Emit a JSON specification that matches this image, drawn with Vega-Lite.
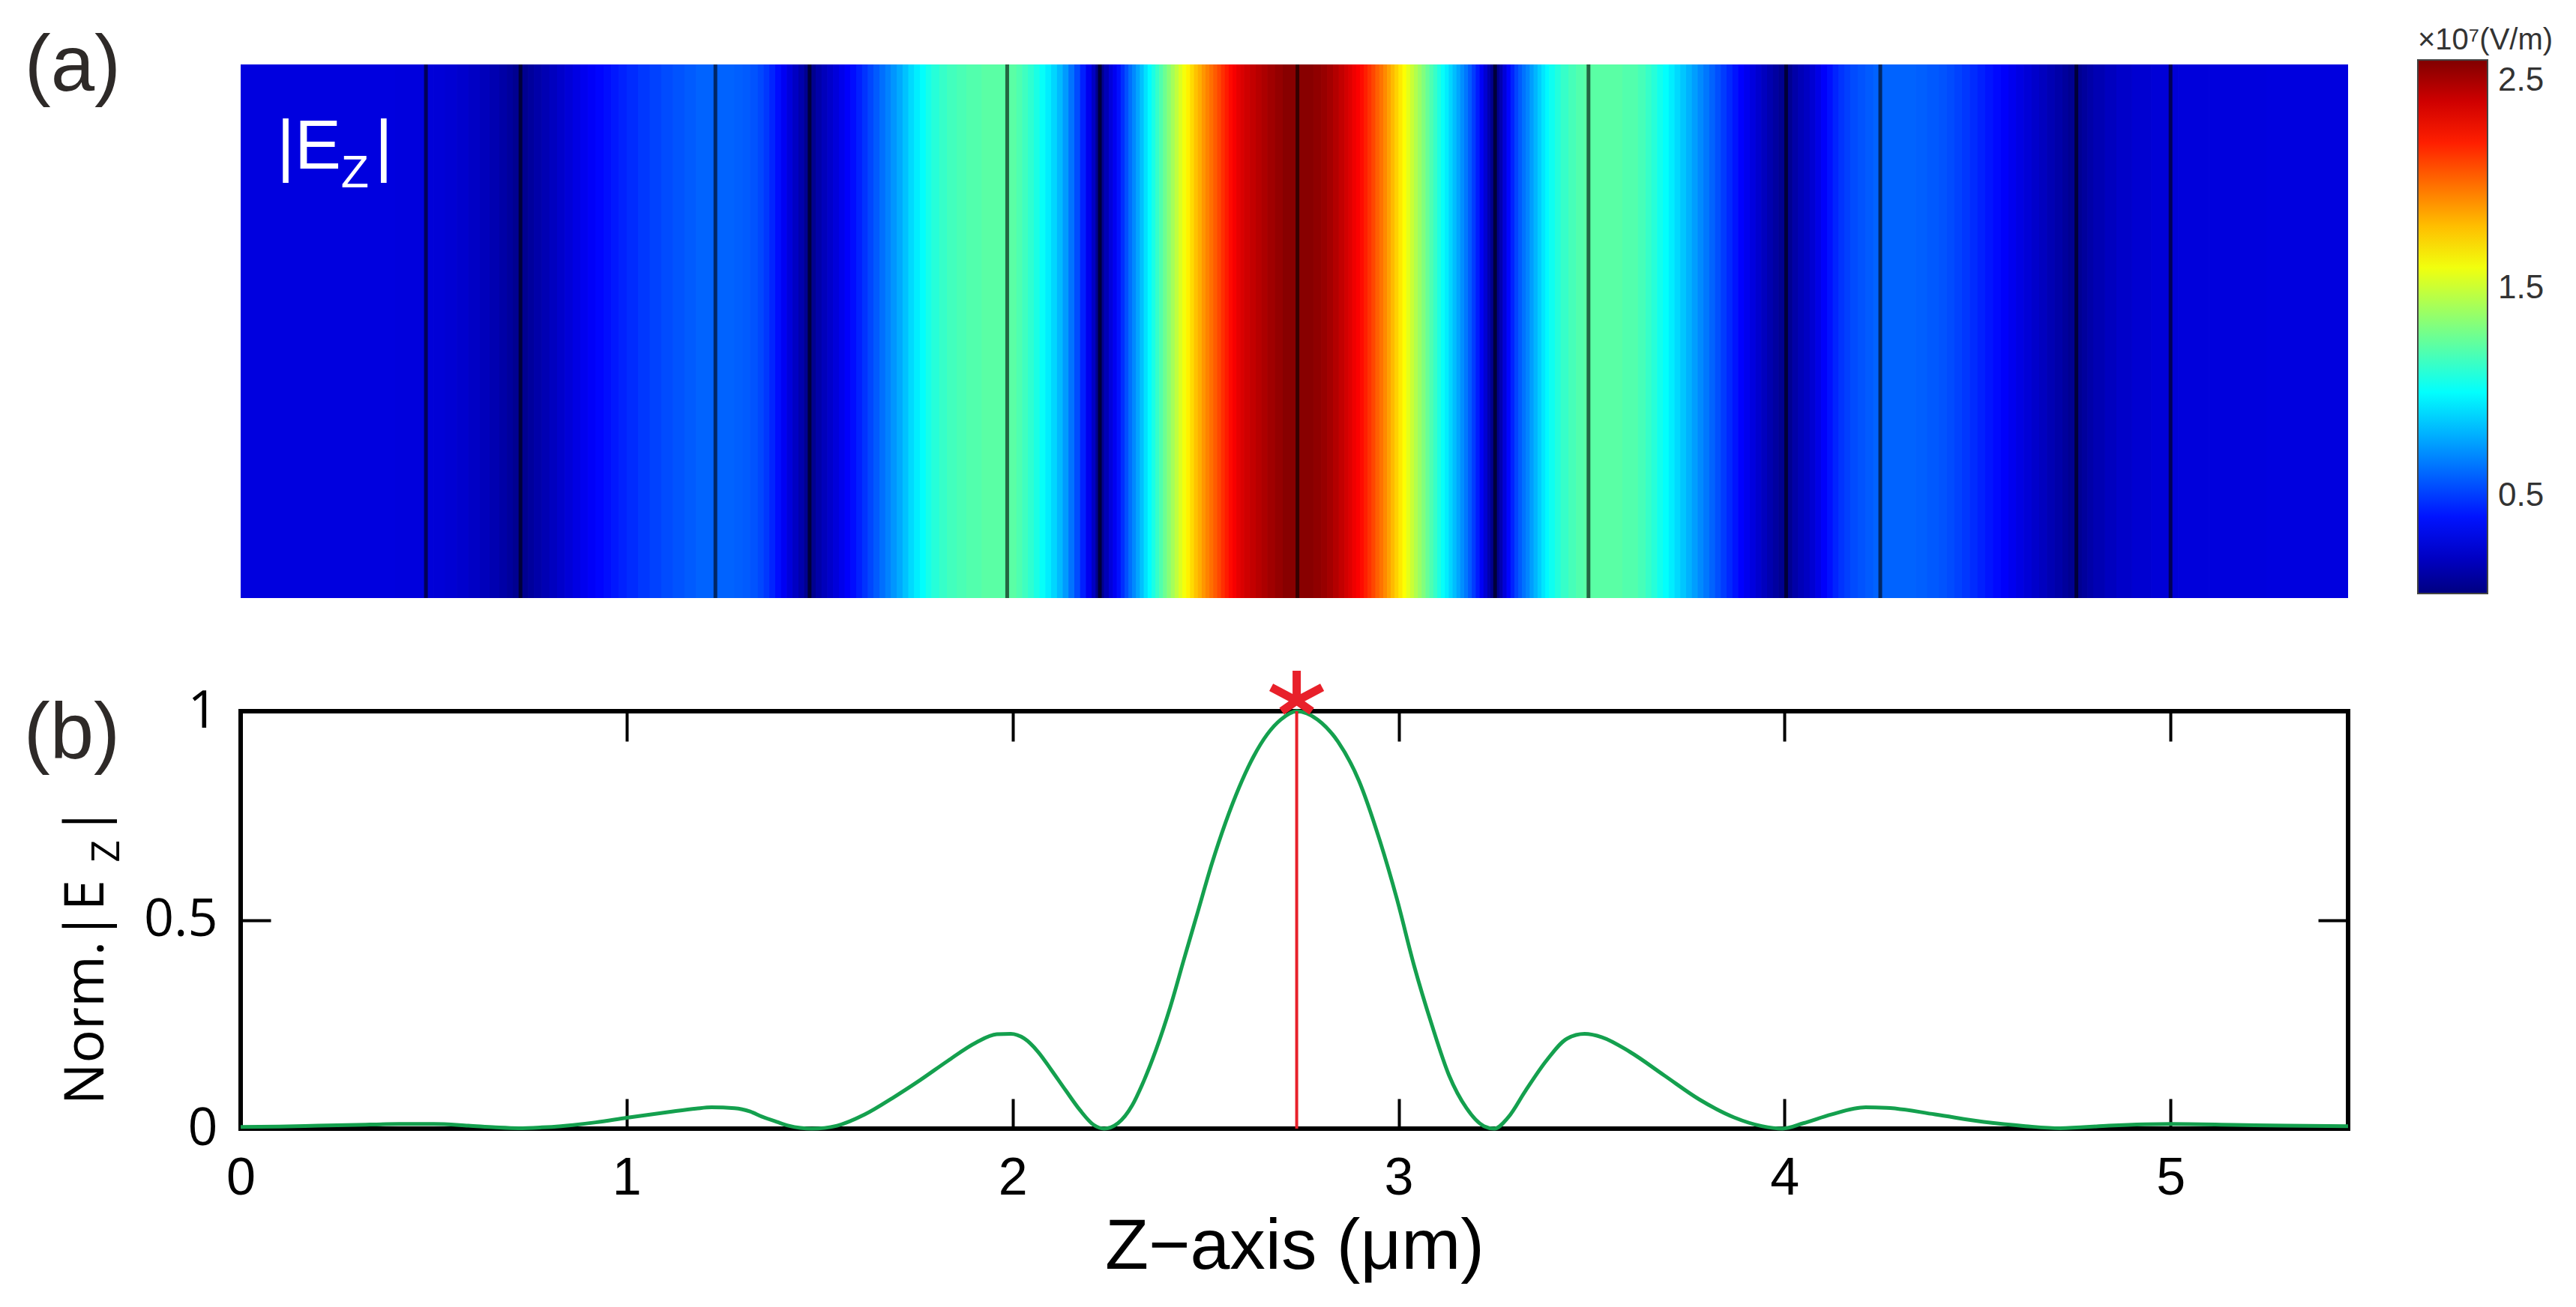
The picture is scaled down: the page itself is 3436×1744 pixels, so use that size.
{
  "$schema": "https://vega.github.io/schema/vega-lite/v6.json",
  "background": "white",
  "padding": {"left": 28, "top": 34, "right": 5, "bottom": 5},
  "spacing": 151,
  "bounds": "flush",
  "config": {
    "font": "Liberation Sans",
    "axis": {"grid": false, "domain": false, "tickColor": "black", "tickWidth": 4, "labelColor": "black", "titleColor": "black", "labelFlush": false},
    "text": {"font": "Liberation Sans"}
  },
  "datasets": {
    "field": [
      {"z0":0,"z1":0.4,"v":0.27},{"z0":0.4,"z1":0.48,"v":0.265},{"z0":0.48,"z1":0.5,"v":0.255},{"z0":0.5,"z1":0.53,"v":0.25},
      {"z0":0.53,"z1":0.56,"v":0.24},{"z0":0.56,"z1":0.59,"v":0.225},{"z0":0.59,"z1":0.62,"v":0.205},{"z0":0.62,"z1":0.645,"v":0.18},
      {"z0":0.645,"z1":0.67,"v":0.155},{"z0":0.67,"z1":0.69,"v":0.125},{"z0":0.69,"z1":0.705,"v":0.1},{"z0":0.705,"z1":0.745,"v":0.07},
      {"z0":0.745,"z1":0.76,"v":0.1},{"z0":0.76,"z1":0.78,"v":0.13},{"z0":0.78,"z1":0.8,"v":0.16},{"z0":0.8,"z1":0.82,"v":0.19},
      {"z0":0.82,"z1":0.84,"v":0.22},{"z0":0.84,"z1":0.86,"v":0.25},{"z0":0.86,"z1":0.88,"v":0.28},{"z0":0.88,"z1":0.9,"v":0.31},
      {"z0":0.9,"z1":0.92,"v":0.335},{"z0":0.92,"z1":0.94,"v":0.36},{"z0":0.94,"z1":0.96,"v":0.385},{"z0":0.96,"z1":0.98,"v":0.41},
      {"z0":0.98,"z1":1.0,"v":0.435},{"z0":1.0,"z1":1.03,"v":0.46},{"z0":1.03,"z1":1.06,"v":0.49},{"z0":1.06,"z1":1.09,"v":0.515},
      {"z0":1.09,"z1":1.12,"v":0.54},{"z0":1.12,"z1":1.15,"v":0.56},{"z0":1.15,"z1":1.18,"v":0.58},{"z0":1.18,"z1":1.28,"v":0.6},
      {"z0":1.28,"z1":1.3,"v":0.59},{"z0":1.3,"z1":1.32,"v":0.58},{"z0":1.32,"z1":1.34,"v":0.56},{"z0":1.34,"z1":1.355,"v":0.53},
      {"z0":1.355,"z1":1.37,"v":0.49},{"z0":1.37,"z1":1.385,"v":0.44},{"z0":1.385,"z1":1.4,"v":0.38},{"z0":1.4,"z1":1.415,"v":0.32},
      {"z0":1.415,"z1":1.43,"v":0.26},{"z0":1.43,"z1":1.445,"v":0.2},{"z0":1.445,"z1":1.46,"v":0.14},{"z0":1.46,"z1":1.49,"v":0.07},
      {"z0":1.49,"z1":1.505,"v":0.13},{"z0":1.505,"z1":1.52,"v":0.18},{"z0":1.52,"z1":1.535,"v":0.22},{"z0":1.535,"z1":1.55,"v":0.26},
      {"z0":1.55,"z1":1.565,"v":0.3},{"z0":1.565,"z1":1.58,"v":0.34},{"z0":1.58,"z1":1.595,"v":0.38},{"z0":1.595,"z1":1.61,"v":0.43},
      {"z0":1.61,"z1":1.625,"v":0.48},{"z0":1.625,"z1":1.64,"v":0.53},{"z0":1.64,"z1":1.655,"v":0.58},{"z0":1.655,"z1":1.67,"v":0.63},
      {"z0":1.67,"z1":1.685,"v":0.68},{"z0":1.685,"z1":1.7,"v":0.73},{"z0":1.7,"z1":1.715,"v":0.78},{"z0":1.715,"z1":1.73,"v":0.84},
      {"z0":1.73,"z1":1.745,"v":0.9},{"z0":1.745,"z1":1.76,"v":0.95},{"z0":1.76,"z1":1.775,"v":1.0},{"z0":1.775,"z1":1.79,"v":1.05},
      {"z0":1.79,"z1":1.81,"v":1.09},{"z0":1.81,"z1":1.83,"v":1.13},{"z0":1.83,"z1":1.855,"v":1.16},{"z0":1.855,"z1":1.88,"v":1.18},
      {"z0":1.88,"z1":1.92,"v":1.2},{"z0":1.92,"z1":2.01,"v":1.22},{"z0":2.01,"z1":2.025,"v":1.19},{"z0":2.025,"z1":2.04,"v":1.15},
      {"z0":2.04,"z1":2.055,"v":1.11},{"z0":2.055,"z1":2.07,"v":1.06},{"z0":2.07,"z1":2.085,"v":1.01},{"z0":2.085,"z1":2.1,"v":0.95},
      {"z0":2.1,"z1":2.115,"v":0.89},{"z0":2.115,"z1":2.13,"v":0.82},{"z0":2.13,"z1":2.145,"v":0.74},{"z0":2.145,"z1":2.16,"v":0.64},
      {"z0":2.16,"z1":2.175,"v":0.54},{"z0":2.175,"z1":2.19,"v":0.43},{"z0":2.19,"z1":2.205,"v":0.31},{"z0":2.205,"z1":2.215,"v":0.2},
      {"z0":2.215,"z1":2.237,"v":0.07},{"z0":2.237,"z1":2.25,"v":0.17},{"z0":2.25,"z1":2.26,"v":0.26},{"z0":2.26,"z1":2.27,"v":0.32},
      {"z0":2.27,"z1":2.28,"v":0.39},{"z0":2.28,"z1":2.29,"v":0.47},{"z0":2.29,"z1":2.3,"v":0.55},{"z0":2.3,"z1":2.31,"v":0.63},
      {"z0":2.31,"z1":2.32,"v":0.7},{"z0":2.32,"z1":2.33,"v":0.77},{"z0":2.33,"z1":2.34,"v":0.84},{"z0":2.34,"z1":2.35,"v":0.92},
      {"z0":2.35,"z1":2.36,"v":0.99},{"z0":2.36,"z1":2.37,"v":1.06},{"z0":2.37,"z1":2.38,"v":1.13},{"z0":2.38,"z1":2.39,"v":1.2},
      {"z0":2.39,"z1":2.4,"v":1.27},{"z0":2.4,"z1":2.41,"v":1.34},{"z0":2.41,"z1":2.42,"v":1.41},{"z0":2.42,"z1":2.43,"v":1.48},
      {"z0":2.43,"z1":2.44,"v":1.55},{"z0":2.44,"z1":2.45,"v":1.61},{"z0":2.45,"z1":2.46,"v":1.67},{"z0":2.46,"z1":2.47,"v":1.73},
      {"z0":2.47,"z1":2.48,"v":1.79},{"z0":2.48,"z1":2.49,"v":1.84},{"z0":2.49,"z1":2.5,"v":1.9},{"z0":2.5,"z1":2.51,"v":1.95},
      {"z0":2.51,"z1":2.52,"v":2.0},{"z0":2.52,"z1":2.53,"v":2.05},{"z0":2.53,"z1":2.54,"v":2.1},{"z0":2.54,"z1":2.55,"v":2.16},
      {"z0":2.55,"z1":2.56,"v":2.21},{"z0":2.56,"z1":2.57,"v":2.26},{"z0":2.57,"z1":2.58,"v":2.3},{"z0":2.58,"z1":2.59,"v":2.34},
      {"z0":2.59,"z1":2.6,"v":2.37},{"z0":2.6,"z1":2.615,"v":2.4},{"z0":2.615,"z1":2.63,"v":2.43},{"z0":2.63,"z1":2.645,"v":2.46},
      {"z0":2.645,"z1":2.66,"v":2.49},{"z0":2.66,"z1":2.68,"v":2.52},{"z0":2.68,"z1":2.7,"v":2.55},{"z0":2.7,"z1":2.78,"v":2.58},
      {"z0":2.78,"z1":2.8,"v":2.56},{"z0":2.8,"z1":2.815,"v":2.54},{"z0":2.815,"z1":2.83,"v":2.51},{"z0":2.83,"z1":2.845,"v":2.47},
      {"z0":2.845,"z1":2.86,"v":2.43},{"z0":2.86,"z1":2.87,"v":2.39},{"z0":2.87,"z1":2.88,"v":2.36},{"z0":2.88,"z1":2.89,"v":2.32},
      {"z0":2.89,"z1":2.9,"v":2.29},{"z0":2.9,"z1":2.91,"v":2.25},{"z0":2.91,"z1":2.92,"v":2.2},{"z0":2.92,"z1":2.93,"v":2.15},
      {"z0":2.93,"z1":2.94,"v":2.1},{"z0":2.94,"z1":2.95,"v":2.04},{"z0":2.95,"z1":2.96,"v":1.99},{"z0":2.96,"z1":2.97,"v":1.93},
      {"z0":2.97,"z1":2.98,"v":1.87},{"z0":2.98,"z1":2.99,"v":1.81},{"z0":2.99,"z1":3.0,"v":1.75},{"z0":3.0,"z1":3.01,"v":1.69},
      {"z0":3.01,"z1":3.02,"v":1.63},{"z0":3.02,"z1":3.03,"v":1.57},{"z0":3.03,"z1":3.04,"v":1.5},{"z0":3.04,"z1":3.05,"v":1.44},
      {"z0":3.05,"z1":3.06,"v":1.38},{"z0":3.06,"z1":3.07,"v":1.32},{"z0":3.07,"z1":3.08,"v":1.25},{"z0":3.08,"z1":3.09,"v":1.19},
      {"z0":3.09,"z1":3.1,"v":1.13},{"z0":3.1,"z1":3.11,"v":1.07},{"z0":3.11,"z1":3.12,"v":1.01},{"z0":3.12,"z1":3.13,"v":0.95},
      {"z0":3.13,"z1":3.14,"v":0.89},{"z0":3.14,"z1":3.15,"v":0.83},{"z0":3.15,"z1":3.16,"v":0.77},{"z0":3.16,"z1":3.17,"v":0.71},
      {"z0":3.17,"z1":3.18,"v":0.65},{"z0":3.18,"z1":3.19,"v":0.58},{"z0":3.19,"z1":3.2,"v":0.5},{"z0":3.2,"z1":3.21,"v":0.42},
      {"z0":3.21,"z1":3.22,"v":0.33},{"z0":3.22,"z1":3.23,"v":0.24},{"z0":3.23,"z1":3.238,"v":0.15},{"z0":3.238,"z1":3.262,"v":0.07},
      {"z0":3.262,"z1":3.27,"v":0.15},{"z0":3.27,"z1":3.28,"v":0.26},{"z0":3.28,"z1":3.29,"v":0.36},{"z0":3.29,"z1":3.3,"v":0.44},
      {"z0":3.3,"z1":3.31,"v":0.52},{"z0":3.31,"z1":3.32,"v":0.58},{"z0":3.32,"z1":3.33,"v":0.64},{"z0":3.33,"z1":3.34,"v":0.69},
      {"z0":3.34,"z1":3.35,"v":0.75},{"z0":3.35,"z1":3.36,"v":0.81},{"z0":3.36,"z1":3.37,"v":0.87},{"z0":3.37,"z1":3.38,"v":0.93},
      {"z0":3.38,"z1":3.39,"v":0.98},{"z0":3.39,"z1":3.405,"v":1.03},{"z0":3.405,"z1":3.42,"v":1.08},{"z0":3.42,"z1":3.44,"v":1.13},
      {"z0":3.44,"z1":3.46,"v":1.17},{"z0":3.46,"z1":3.48,"v":1.2},{"z0":3.48,"z1":3.58,"v":1.22},{"z0":3.58,"z1":3.62,"v":1.2},
      {"z0":3.62,"z1":3.64,"v":1.17},{"z0":3.64,"z1":3.655,"v":1.13},{"z0":3.655,"z1":3.67,"v":1.09},{"z0":3.67,"z1":3.685,"v":1.04},
      {"z0":3.685,"z1":3.7,"v":1.0},{"z0":3.7,"z1":3.715,"v":0.95},{"z0":3.715,"z1":3.73,"v":0.9},{"z0":3.73,"z1":3.745,"v":0.85},
      {"z0":3.745,"z1":3.76,"v":0.8},{"z0":3.76,"z1":3.775,"v":0.75},{"z0":3.775,"z1":3.79,"v":0.7},{"z0":3.79,"z1":3.805,"v":0.65},
      {"z0":3.805,"z1":3.82,"v":0.6},{"z0":3.82,"z1":3.835,"v":0.55},{"z0":3.835,"z1":3.85,"v":0.5},{"z0":3.85,"z1":3.865,"v":0.45},
      {"z0":3.865,"z1":3.88,"v":0.4},{"z0":3.88,"z1":3.895,"v":0.35},{"z0":3.895,"z1":3.91,"v":0.31},{"z0":3.91,"z1":3.925,"v":0.27},
      {"z0":3.925,"z1":3.94,"v":0.23},{"z0":3.94,"z1":3.955,"v":0.19},{"z0":3.955,"z1":3.97,"v":0.15},{"z0":3.97,"z1":3.985,"v":0.11},
      {"z0":3.985,"z1":4.02,"v":0.07},{"z0":4.02,"z1":4.035,"v":0.13},{"z0":4.035,"z1":4.05,"v":0.17},{"z0":4.05,"z1":4.065,"v":0.2},
      {"z0":4.065,"z1":4.08,"v":0.24},{"z0":4.08,"z1":4.095,"v":0.29},{"z0":4.095,"z1":4.11,"v":0.34},{"z0":4.11,"z1":4.125,"v":0.39},
      {"z0":4.125,"z1":4.14,"v":0.44},{"z0":4.14,"z1":4.155,"v":0.48},{"z0":4.155,"z1":4.17,"v":0.51},{"z0":4.17,"z1":4.19,"v":0.54},
      {"z0":4.19,"z1":4.21,"v":0.56},{"z0":4.21,"z1":4.23,"v":0.58},{"z0":4.23,"z1":4.34,"v":0.6},{"z0":4.34,"z1":4.37,"v":0.59},
      {"z0":4.37,"z1":4.4,"v":0.575},{"z0":4.4,"z1":4.42,"v":0.56},{"z0":4.42,"z1":4.44,"v":0.54},{"z0":4.44,"z1":4.46,"v":0.515},
      {"z0":4.46,"z1":4.48,"v":0.49},{"z0":4.48,"z1":4.5,"v":0.46},{"z0":4.5,"z1":4.52,"v":0.43},{"z0":4.52,"z1":4.54,"v":0.4},
      {"z0":4.54,"z1":4.56,"v":0.37},{"z0":4.56,"z1":4.58,"v":0.34},{"z0":4.58,"z1":4.6,"v":0.31},{"z0":4.6,"z1":4.62,"v":0.28},
      {"z0":4.62,"z1":4.64,"v":0.25},{"z0":4.64,"z1":4.66,"v":0.22},{"z0":4.66,"z1":4.68,"v":0.19},{"z0":4.68,"z1":4.7,"v":0.16},
      {"z0":4.7,"z1":4.72,"v":0.13},{"z0":4.72,"z1":4.735,"v":0.1},{"z0":4.735,"z1":4.77,"v":0.07},{"z0":4.77,"z1":4.785,"v":0.1},
      {"z0":4.785,"z1":4.8,"v":0.13},{"z0":4.8,"z1":4.83,"v":0.16},{"z0":4.83,"z1":4.86,"v":0.19},{"z0":4.86,"z1":4.9,"v":0.215},
      {"z0":4.9,"z1":4.95,"v":0.235},{"z0":4.95,"z1":5.02,"v":0.25},{"z0":5.02,"z1":5.1,"v":0.26},{"z0":5.1,"z1":5.25,"v":0.265},
      {"z0":5.25,"z1":5.46,"v":0.27}
    ],
    "layers": [
      {"z":0.48},{"z":0.725},{"z":1.23},{"z":1.474},{"z":1.986},{"z":2.226},{"z":2.738},
      {"z":3.25},{"z":3.492},{"z":4.004},{"z":4.248},{"z":4.756},{"z":5.0}
    ],
    "profile": [
      {"z":0,"v":0.004},{"z":0.1,"v":0.005},{"z":0.2,"v":0.007},{"z":0.3,"v":0.009},{"z":0.41,"v":0.011},{"z":0.5,"v":0.011},
      {"z":0.59,"v":0.007},{"z":0.66,"v":0.003},{"z":0.72,"v":0.001},{"z":0.78,"v":0.003},{"z":0.83,"v":0.006},{"z":0.92,"v":0.015},
      {"z":1.0,"v":0.026},{"z":1.11,"v":0.04},{"z":1.18,"v":0.048},{"z":1.22,"v":0.051},{"z":1.28,"v":0.049},{"z":1.32,"v":0.041},
      {"z":1.35,"v":0.029},{"z":1.39,"v":0.016},{"z":1.42,"v":0.007},{"z":1.48,"v":0.0},{"z":1.545,"v":0.007},{"z":1.617,"v":0.034},
      {"z":1.69,"v":0.074},{"z":1.76,"v":0.116},{"z":1.833,"v":0.163},{"z":1.905,"v":0.206},{"z":1.959,"v":0.226},{"z":1.995,"v":0.227},
      {"z":2.03,"v":0.216},{"z":2.066,"v":0.184},{"z":2.1,"v":0.141},{"z":2.138,"v":0.091},{"z":2.174,"v":0.045},{"z":2.21,"v":0.009},
      {"z":2.237,"v":0.0},{"z":2.273,"v":0.013},{"z":2.31,"v":0.056},{"z":2.336,"v":0.106},{"z":2.372,"v":0.19},{"z":2.408,"v":0.29},
      {"z":2.444,"v":0.406},{"z":2.48,"v":0.52},{"z":2.516,"v":0.634},{"z":2.552,"v":0.734},{"z":2.588,"v":0.82},{"z":2.624,"v":0.891},
      {"z":2.66,"v":0.945},{"z":2.695,"v":0.98},{"z":2.736,"v":1.0},{"z":2.79,"v":0.98},{"z":2.843,"v":0.927},{"z":2.897,"v":0.834},
      {"z":2.951,"v":0.691},{"z":2.996,"v":0.549},{"z":3.04,"v":0.391},{"z":3.086,"v":0.249},{"z":3.131,"v":0.127},{"z":3.176,"v":0.049},
      {"z":3.221,"v":0.006},{"z":3.248,"v":0.0},{"z":3.284,"v":0.027},{"z":3.329,"v":0.091},{"z":3.383,"v":0.163},{"z":3.437,"v":0.216},
      {"z":3.482,"v":0.227},{"z":3.527,"v":0.219},{"z":3.599,"v":0.184},{"z":3.689,"v":0.127},{"z":3.779,"v":0.07},{"z":3.869,"v":0.027},
      {"z":3.941,"v":0.006},{"z":3.995,"v":0.0},{"z":4.049,"v":0.013},{"z":4.121,"v":0.034},{"z":4.21,"v":0.051},{"z":4.264,"v":0.05},
      {"z":4.39,"v":0.034},{"z":4.516,"v":0.016},{"z":4.624,"v":0.006},{"z":4.714,"v":0.001},{"z":4.84,"v":0.007},{"z":5.0,"v":0.011},
      {"z":5.164,"v":0.009},{"z":5.3,"v":0.007},{"z":5.46,"v":0.006}
    ]
  },
  "vconcat": [
    {
      "width": 2811,
      "height": 712,
      "view": {"stroke": null},
      "layer": [
        {
          "data": {"name": "field"},
          "mark": {"type": "rect"},
          "encoding": {
            "x": {"field": "z0", "type": "quantitative", "scale": {"domain": [0, 5.46], "nice": false, "zero": false}, "axis": null},
            "x2": {"field": "z1"},
            "y": {"datum": 0, "type": "quantitative", "scale": {"domain": [0, 1], "nice": false}, "axis": null},
            "y2": {"datum": 1},
            "color": {
              "field": "v", "type": "quantitative",
              "scale": {"domain": [0.03, 0.351, 0.994, 1.636, 2.279, 2.6], "range": ["#000080", "#0000ff", "#00ffff", "#ffff00", "#ff0000", "#800000"], "interpolate": "rgb"},
              "legend": {
                "type": "gradient",
                "orient": "none", "legendX": 2904, "legendY": -52, "direction": "vertical",
                "gradientLength": 712, "gradientThickness": 93, "values": [0.5, 1.5, 2.5],
                "title": "×10⁷(V/m)", "titleFontSize": 40, "titleFontWeight": "normal", "titleFont": "Liberation Sans", "titleColor": "#333333", "titlePadding": 6, "titleLimit": 400,
                "labelFontSize": 44, "labelFont": "Liberation Sans", "labelColor": "#333333", "labelOffset": 14,
                "gradientStrokeColor": "#444444", "gradientStrokeWidth": 2
              }
            }
          }
        },
        {
          "data": {"name": "field"},
          "mark": {"type": "rect"},
          "encoding": {
            "x": {"field": "z0", "type": "quantitative"},
            "x2": {"field": "z1"},
            "y": {"datum": 0, "type": "quantitative"},
            "y2": {"datum": 1},
            "color": {"field": "v", "type": "quantitative", "legend": null}
          }
        },
        {
          "data": {"name": "field"},
          "mark": {"type": "rect"},
          "encoding": {
            "x": {"field": "z0", "type": "quantitative"},
            "x2": {"field": "z1"},
            "y": {"datum": 0, "type": "quantitative"},
            "y2": {"datum": 1},
            "color": {"field": "v", "type": "quantitative", "legend": null}
          }
        },
        {
          "data": {"name": "layers"},
          "mark": {"type": "rule", "color": "black", "opacity": 0.6, "strokeWidth": 5},
          "encoding": {"x": {"field": "z", "type": "quantitative"}}
        },
        {
          "data": {"values": [{"t": "|E", "z": 0.093, "y": 0.805}, {"t": "|", "z": 0.347, "y": 0.805}]},
          "mark": {"type": "text", "align": "left", "baseline": "alphabetic", "fontSize": 93, "color": "white", "font": "Liberation Sans"},
          "encoding": {"x": {"field": "z", "type": "quantitative"}, "y": {"field": "y", "type": "quantitative"}, "text": {"field": "t"}}
        },
        {
          "data": {"values": [{"t": "Z", "z": 0.26, "y": 0.77}]},
          "mark": {"type": "text", "align": "left", "baseline": "alphabetic", "fontSize": 61, "color": "white", "font": "Liberation Sans"},
          "encoding": {"x": {"field": "z", "type": "quantitative"}, "y": {"field": "y", "type": "quantitative"}, "text": {"field": "t"}}
        },
        {
          "data": {"values": [{"t": "(a)", "z": -0.56, "y": 0.951}]},
          "mark": {"type": "text", "align": "left", "baseline": "alphabetic", "fontSize": 105, "color": "#2e2a28", "font": "Liberation Sans"},
          "encoding": {"x": {"field": "z", "type": "quantitative"}, "y": {"field": "y", "type": "quantitative"}, "text": {"field": "t"}}
        }
      ]
    },
    {
      "width": 2811,
      "height": 557,
      "view": {"stroke": "black", "strokeWidth": 6},
      "resolve": {"axis": {"x": "independent", "y": "independent"}},
      "layer": [
        {
          "data": {"name": "profile"},
          "mark": {"type": "line", "color": "#14a04e", "strokeWidth": 5, "interpolate": "monotone"},
          "encoding": {
            "x": {"field": "z", "type": "quantitative", "scale": {"domain": [0, 5.46], "nice": false, "zero": false},
                  "axis": {"orient": "bottom", "values": [0, 1, 2, 3, 4, 5], "tickSize": -40, "labelPadding": 72, "labelFont": "Liberation Sans", "labelFontSize": 70,
                           "title": "Z−axis (μm)", "titleFont": "Liberation Sans", "titleFontSize": 95, "titleFontWeight": "normal", "titlePadding": 10}},
            "y": {"field": "v", "type": "quantitative", "scale": {"domain": [0, 1], "nice": false},
                  "axis": {"orient": "left", "values": [0, 0.5, 1], "format": "~g", "tickSize": -40, "labelPadding": 71, "labelFont": "Open Sans", "labelFontSize": 70, "title": null}}
          }
        },
        {
          "data": {"values": [{"z": 2.736, "y0": 0, "y1": 1}]},
          "mark": {"type": "rule", "color": "#e8202a", "strokeWidth": 4},
          "encoding": {
            "x": {"field": "z", "type": "quantitative", "axis": {"orient": "top", "values": [1, 2, 3, 4, 5], "tickSize": -40, "labels": false, "title": null}},
            "y": {"field": "y0", "type": "quantitative", "axis": {"orient": "right", "values": [0.5], "tickSize": -40, "labels": false, "title": null}},
            "y2": {"field": "y1"}
          }
        },
        {
          "data": {"values": [{"z": 2.736, "v": 1.025}]},
          "mark": {"type": "point", "shape": "M0,0L0,-1M0,0L0.85,-0.45M0,0L-0.85,-0.45M0,0L0.5,0.35M0,0L-0.5,0.35", "size": 6400, "filled": false, "stroke": "#e8202a", "strokeWidth": 11, "opacity": 1},
          "encoding": {"x": {"field": "z", "type": "quantitative", "axis": null}, "y": {"field": "v", "type": "quantitative", "axis": null}}
        },
        {
          "data": {"values": [{"t": "(b)", "z": -0.562, "y": 0.887}]},
          "mark": {"type": "text", "align": "left", "baseline": "alphabetic", "fontSize": 105, "color": "#2e2a28", "font": "Liberation Sans"},
          "encoding": {"x": {"field": "z", "type": "quantitative", "axis": null}, "y": {"field": "y", "type": "quantitative", "axis": null}, "text": {"field": "t"}}
        },
        {
          "data": {"values": [{"t": "Norm.|E", "z": -0.355, "y": 0.057}, {"t": "|", "z": -0.355, "y": 0.7}]},
          "mark": {"type": "text", "align": "left", "baseline": "alphabetic", "angle": 270, "fontSize": 74, "color": "black", "font": "Open Sans"},
          "encoding": {"x": {"field": "z", "type": "quantitative", "axis": null}, "y": {"field": "y", "type": "quantitative", "axis": null}, "text": {"field": "t"}}
        },
        {
          "data": {"values": [{"t": "Z", "z": -0.315, "y": 0.638}]},
          "mark": {"type": "text", "align": "left", "baseline": "alphabetic", "angle": 270, "fontSize": 52, "color": "black", "font": "Open Sans"},
          "encoding": {"x": {"field": "z", "type": "quantitative", "axis": null}, "y": {"field": "y", "type": "quantitative", "axis": null}, "text": {"field": "t"}}
        }
      ]
    }
  ]
}
